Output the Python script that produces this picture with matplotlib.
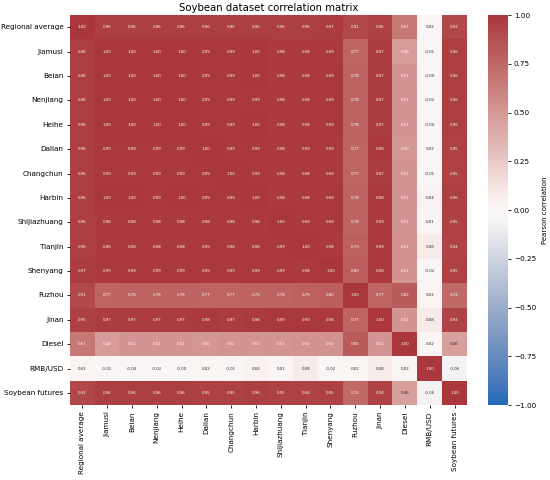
import numpy as np
import pandas as pd
import seaborn as sns
import matplotlib.pyplot as plt

names = ['Regional average', 'Jiamusi', 'Beian', 'Nenjiang', 'Heihe', 'Dalian',
         'Changchun', 'Harbin', 'Shijiazhuang', 'Tianjin', 'Shenyang', 'Fuzhou',
         'Jinan', 'Diesel', 'RMB/USD', 'Soybean futures']

regional_average = [1.00, 0.96, 0.96, 0.96, 0.96, 0.96, 0.96, 0.96, 0.96, 0.96, 0.97, 0.91, 0.95, 0.67, 0.02, 0.92]
jiamusi = [0.96, 1.00, 1.00, 1.00, 1.00, 0.99, 0.99, 1.00, 0.98, 0.98, 0.99, 0.77, 0.97, 0.48, -0.01, 0.96]
beian = [0.96, 1.00, 1.00, 1.00, 1.00, 0.99, 0.99, 1.00, 0.98, 0.98, 0.99, 0.78, 0.97, 0.51, -0.00, 0.96]
nenjiang = [0.96, 1.00, 1.00, 1.00, 1.00, 0.99, 0.99, 0.99, 0.98, 0.98, 0.99, 0.78, 0.97, 0.51, -0.02, 0.96]
heihe = [0.96, 1.00, 1.00, 1.00, 1.00, 0.99, 0.99, 1.00, 0.98, 0.98, 0.99, 0.78, 0.97, 0.51, -0.00, 0.96]
dalian = [0.96, 0.99, 0.99, 0.99, 0.99, 1.00, 0.99, 0.99, 0.98, 0.99, 0.99, 0.77, 0.98, 0.50, 0.02, 0.95]
changchun = [0.96, 0.99, 0.99, 0.99, 0.99, 0.99, 1.00, 0.99, 0.98, 0.98, 0.99, 0.77, 0.97, 0.52, -0.01, 0.95]
harbin = [0.96, 1.00, 1.00, 0.99, 1.00, 0.99, 0.99, 1.00, 0.98, 0.98, 0.99, 0.78, 0.98, 0.51, 0.04, 0.96]
shijiazhuang = [0.96, 0.98, 0.98, 0.98, 0.98, 0.98, 0.98, 0.98, 1.00, 0.99, 0.99, 0.78, 0.99, 0.51, 0.01, 0.95]
tianjin = [0.96, 0.98, 0.98, 0.98, 0.98, 0.99, 0.98, 0.98, 0.99, 1.00, 0.98, 0.79, 0.99, 0.53, 0.08, 0.94]
shenyang = [0.97, 0.99, 0.99, 0.99, 0.99, 0.99, 0.99, 0.99, 0.99, 0.98, 1.00, 0.80, 0.98, 0.53, -0.02, 0.95]
fuzhou = [0.91, 0.77, 0.78, 0.78, 0.78, 0.77, 0.77, 0.78, 0.78, 0.79, 0.80, 1.00, 0.77, 0.82, 0.02, 0.74]
jinan = [0.95, 0.97, 0.97, 0.97, 0.97, 0.98, 0.97, 0.98, 0.99, 0.99, 0.98, 0.77, 1.00, 0.51, 0.08, 0.94]
diesel = [0.67, 0.48, 0.51, 0.51, 0.51, 0.50, 0.52, 0.51, 0.51, 0.53, 0.53, 0.82, 0.51, 1.00, 0.02, 0.46]
rmb_usd = [0.02, -0.01, -0.00, -0.02, -0.00, 0.02, -0.01, 0.04, 0.01, 0.08, -0.02, 0.02, 0.08, 0.02, 1.00, -0.06]
soybean_futures = [0.92, 0.96, 0.96, 0.96, 0.96, 0.95, 0.95, 0.96, 0.95, 0.94, 0.95, 0.74, 0.94, 0.46, -0.06, 1.00]

rows = [regional_average, jiamusi, beian, nenjiang, heihe, dalian, changchun, harbin,
        shijiazhuang, tianjin, shenyang, fuzhou, jinan, diesel, rmb_usd, soybean_futures]
corr = pd.DataFrame(rows, index=names, columns=names)

fig = plt.figure(figsize=(5.5, 4.8), dpi=100)
ax = fig.add_axes([0.127, 0.156, 0.722, 0.8125])
cax = fig.add_axes([0.887, 0.156, 0.036, 0.8125])

sns.heatmap(corr, ax=ax, cbar_ax=cax, cmap='vlag', vmin=-1, vmax=1, center=0,
            annot=True, fmt='.2f', annot_kws={'fontsize': 2.8},
            cbar_kws={'label': 'Pearson correlation'})

ax.set_title('Soybean dataset correlation matrix', fontsize=7.3, pad=3)
ax.tick_params(axis='both', labelsize=5.2, length=2.5, width=0.6, pad=2)
plt.setp(ax.get_xticklabels(), rotation=90)
plt.setp(ax.get_yticklabels(), rotation=0)
cax.set_yticks([-1, -0.75, -0.5, -0.25, 0, 0.25, 0.5, 0.75, 1])
cax.tick_params(labelsize=5.2, length=2.5, width=0.6, pad=2)
cax.yaxis.label.set_size(5)

fig.savefig('out.png', dpi=100)
